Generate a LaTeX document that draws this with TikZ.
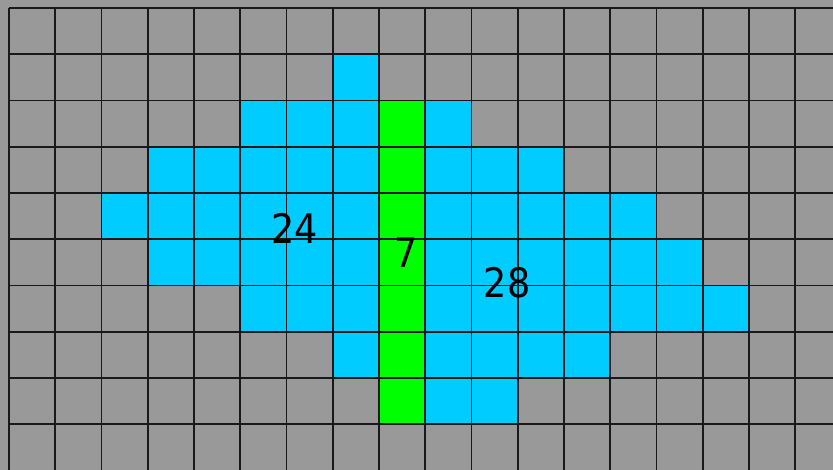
\documentclass[tikz,border=0pt]{standalone}
\usepackage{fontspec}
\usepackage{xcolor}
\usepackage{tikz}
\usetikzlibrary{positioning}
\newfontfamily\labelfont{DejaVu Sans Condensed}
\definecolor{cellgray}{HTML}{999999}
\definecolor{cellblue}{HTML}{00CCFF}
\definecolor{cellgreen}{HTML}{00FF00}

\begin{document}
\begin{tikzpicture}[
    gridline/.style={draw=black!90, line width=1.1pt},
    bluecell/.style={fill=cellblue},
    greencell/.style={fill=cellgreen},
    count/.style={font=\labelfont\fontsize{25}{30}\selectfont, text=black, inner sep=0pt}
]
\clip (-0.195,0.173) rectangle (17.816,-9.989);
\fill[cellgray] (-1,1) rectangle (19,-11);

% blue region, row by row (column/row from top left)
\foreach \c/\r in {7/1,
    5/2,6/2,7/2,9/2,
    3/3,4/3,5/3,6/3,7/3,9/3,10/3,11/3,
    2/4,3/4,4/4,5/4,6/4,7/4,9/4,10/4,11/4,12/4,13/4,
    3/5,4/5,5/5,6/5,7/5,9/5,10/5,11/5,12/5,13/5,14/5,
    5/6,6/6,7/6,9/6,10/6,11/6,12/6,13/6,14/6,15/6,
    7/7,9/7,10/7,11/7,12/7,
    9/8,10/8}
  \fill[bluecell] (\c,-\r) rectangle ++(1,-1);

% green column
\foreach \r in {2,...,8}
  \fill[greencell] (8,-\r) rectangle ++(1,-1);

\draw[gridline] (0,-11) grid (19,0);

\node[count] (left) at (6.18,-4.76) {24};
\node[count] (mid) at (8.58,-5.28) {7};
\node[count] (right) at (10.77,-5.95) {28};
\end{tikzpicture}
\end{document}
